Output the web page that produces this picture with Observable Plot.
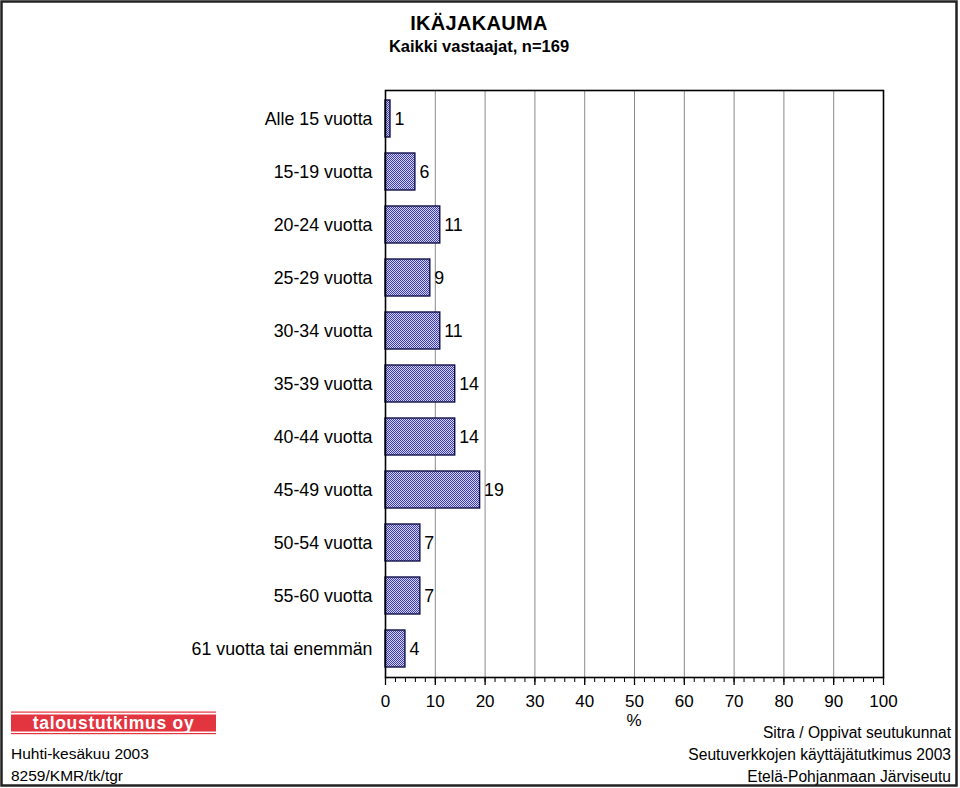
<!DOCTYPE html>
<html>
<head>
<meta charset="utf-8">
<script src="https://cdn.jsdelivr.net/npm/d3@7"></script>
<script src="https://cdn.jsdelivr.net/npm/@observablehq/plot@0.6"></script>
<style>
  html, body { margin: 0; padding: 0; background: #fff; }
  #chart { position: relative; width: 960px; height: 788px; }
  svg { font-family: "Liberation Sans", Arial, sans-serif; }
</style>
</head>
<body>
<div id="chart"></div>
<script>
// ---- data ----
const categories = [
  "Alle 15 vuotta", "15-19 vuotta", "20-24 vuotta", "25-29 vuotta",
  "30-34 vuotta", "35-39 vuotta", "40-44 vuotta", "45-49 vuotta",
  "50-54 vuotta", "55-60 vuotta", "61 vuotta tai enemmän"
];
const values = [1, 6, 11, 9, 11, 14, 14, 19, 7, 7, 4];
const majorTicks = [0, 10, 20, 30, 40, 50, 60, 70, 80, 90, 100];
const minorTicks = d3.range(0, 101, 2);
const gridTicks = [10, 20, 30, 40, 50, 60, 70, 80, 90];
const title = "IKÄJAKAUMA";
const subtitle = "Kaikki vastaajat, n=169";
const axisLabel = "%";
const footerLeft = ["Huhti-kesäkuu 2003", "8259/KMR/tk/tgr"];
const footerRight = ["Sitra / Oppivat seutukunnat", "Seutuverkkojen käyttäjätutkimus 2003", "Etelä-Pohjanmaan Järviseutu"];
const logoText = "taloustutkimus oy";

const data = categories.map((c, i) => ({category: c, value: values[i]}));

const svg = Plot.plot({
  width: 960,
  height: 788,
  marginLeft: 385,
  marginRight: 77,
  marginTop: 90,
  marginBottom: 111,
  style: {fontFamily: "'Liberation Sans', Arial, sans-serif", color: "#000", background: "#fff"},
  x: {domain: [0, 100], label: null},
  y: {domain: categories, paddingInner: 0.3, paddingOuter: 0.15, label: null},
  marks: [
    Plot.gridX(gridTicks, {stroke: "#8a8a8a", strokeOpacity: 1, strokeWidth: 1}),
    Plot.barX(data, {x: "value", y: "category", fill: "url(#checker)", stroke: "#10104a", strokeWidth: 1.4}),
    Plot.text(data, {x: "value", y: "category", text: d => String(d.value), dx: 4, textAnchor: "start", fontSize: 17.8, fill: "#000"}),
    Plot.axisY({tickSize: 0, tickPadding: 13, fontSize: 17.8, fill: "#000"}),
    Plot.axisX(minorTicks, {tickSize: 5, tickFormat: () => "", stroke: "#000"}),
    Plot.axisX(majorTicks, {tickSize: 8, tickPadding: 9, fontSize: 17, fill: "#000", stroke: "#000", strokeWidth: 1.3}),
    Plot.frame({stroke: "#000", strokeWidth: 1.6})
  ]
});

const s = d3.select(svg);
s.insert("defs", ":first-child").html(`
  <pattern id="checker" patternUnits="userSpaceOnUse" x="0" y="0" width="2" height="2">
    <rect width="2" height="2" fill="#d4d4fa" shape-rendering="crispEdges"/>
    <rect x="0" y="0" width="1" height="1" fill="#3c3cb0" shape-rendering="crispEdges"/>
    <rect x="1" y="1" width="1" height="1" fill="#3c3cb0" shape-rendering="crispEdges"/>
  </pattern>`);

// titles
s.append("text").attr("x", 479).attr("y", 30).attr("text-anchor", "middle")
  .attr("font-size", 20).attr("font-weight", "bold").attr("letter-spacing", 0.3).text(title);
s.append("text").attr("x", 479).attr("y", 52).attr("text-anchor", "middle")
  .attr("font-size", 16.5).attr("font-weight", "bold").text(subtitle);

// axis label
s.append("text").attr("x", 634).attr("y", 726).attr("text-anchor", "middle")
  .attr("font-size", 17).text(axisLabel);

// logo
s.append("rect").attr("x", 11).attr("y", 711.5).attr("width", 205).attr("height", 1.2).attr("fill", "#e3353f");
s.append("rect").attr("x", 11).attr("y", 714.5).attr("width", 205).attr("height", 17).attr("fill", "#e3353f");
s.append("rect").attr("x", 11).attr("y", 733).attr("width", 205).attr("height", 1.2).attr("fill", "#e3353f");
s.append("text").attr("x", 113.5).attr("y", 728.5).attr("text-anchor", "middle")
  .attr("font-size", 17.5).attr("font-weight", "bold").attr("letter-spacing", 0.7).attr("fill", "#fff").text(logoText);

// footers
footerLeft.forEach((t, i) => {
  s.append("text").attr("x", 11).attr("y", 759 + i * 22).attr("text-anchor", "start").attr("font-size", 15.5).text(t);
});
footerRight.forEach((t, i) => {
  s.append("text").attr("x", 951).attr("y", 738 + i * 22).attr("text-anchor", "end").attr("font-size", 15.6).text(t);
});

// outer border
s.append("rect").attr("x", 1.5).attr("y", 1.5).attr("width", 955).attr("height", 784)
  .attr("fill", "none").attr("stroke", "#222").attr("stroke-width", 2.5);

document.getElementById("chart").appendChild(svg);
</script>
</body>
</html>
